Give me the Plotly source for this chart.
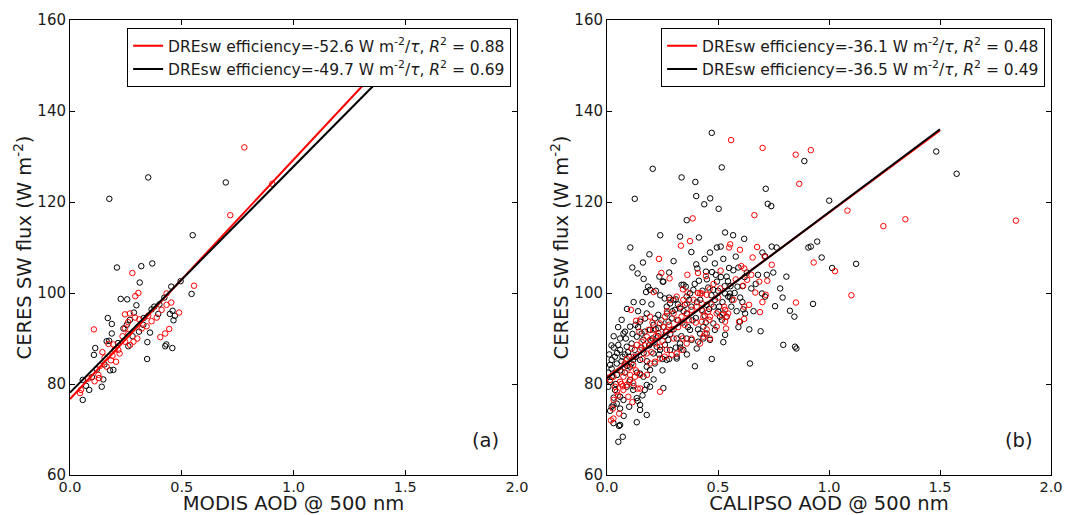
import plotly.graph_objects as go

# ---------------- Panel (a): MODIS ----------------
a_black_x = [0.350,0.176,0.697,0.549,0.210,0.319,0.368,0.312,0.227,0.256,0.297,0.544,0.495,0.453,0.422,0.377,0.459,0.447,0.469,0.463,0.431,0.426,0.458,0.346,0.345,0.358,0.169,0.187,0.187,0.164,0.175,0.113,0.107,0.142,0.149,0.057,0.086,0.057,0.239,0.254,0.268,0.286,0.309,0.328,0.365,0.395,0.261,0.194,0.179,0.154,0.072,0.098,0.120,0.215,0.280,0.330,0.400]
a_black_y = [125.4,120.7,124.3,112.7,105.6,105.9,106.5,102.3,98.7,98.6,97.3,99.8,102.6,101.4,99.0,97.0,96.1,95.4,95.0,94.0,88.7,88.3,87.9,89.2,85.5,91.3,94.5,93.2,91.1,89.4,89.5,87.9,86.4,79.4,81.0,80.9,78.7,76.5,92.2,93.0,94.1,95.7,91.5,93.0,96.4,95.4,88.3,83.1,83.0,84.3,79.6,81.5,83.2,89.0,90.5,94.5,97.5]
a_red_x = [0.780,0.717,0.905,0.279,0.306,0.292,0.555,0.432,0.453,0.432,0.488,0.444,0.426,0.404,0.107,0.145,0.127,0.110,0.049,0.082,0.172,0.194,0.216,0.206,0.183,0.164,0.190,0.222,0.246,0.269,0.284,0.301,0.321,0.343,0.365,0.388,0.410,0.246,0.268,0.291,0.246,0.261,0.135,0.155,0.200,0.235,0.260,0.310,0.350,0.045,0.130]
a_red_y = [132.0,117.1,124.0,104.4,100.0,99.3,101.6,99.9,97.9,97.4,95.7,92.1,91.1,90.3,92.0,87.0,82.0,80.6,78.7,81.2,88.8,88.7,87.5,84.9,85.2,83.8,86.2,86.7,89.3,88.6,89.3,90.0,92.2,92.7,93.8,94.6,96.3,95.3,95.5,94.6,92.2,91.0,84.0,85.8,87.6,90.5,93.6,94.2,95.0,78.0,81.3]

# ---------------- Panel (b): CALIPSO ----------------
b_black_x = [0.472,0.206,0.125,0.336,0.398,0.517,0.402,0.465,0.438,0.503,0.359,0.715,0.724,0.740,0.889,0.240,0.329,0.414,0.532,0.568,0.618,0.105,0.191,0.114,0.138,0.162,0.165,0.185,0.176,0.236,0.254,0.402,0.407,0.446,0.473,0.486,0.495,0.512,0.464,0.524,0.592,0.700,0.742,0.764,0.749,0.808,0.907,0.918,0.947,0.967,1.001,0.345,0.355,0.414,0.495,0.513,0.545,0.556,0.456,0.588,0.791,0.698,0.260,0.280,0.310,
             1.483,1.575,1.014,1.122,
             0.712,0.611,0.479,0.532,0.554,0.562,0.712,0.757,0.928,0.824,0.844,0.614,0.622,0.584,0.524,0.539,0.517,0.479,0.486,0.449,0.434,0.532,0.524,0.592,0.641,0.692,0.794,0.847,0.853,0.472,0.644,
             0.251,0.194,0.066,0.074,0.059,0.051,0.036,0.044,0.021,0.014,0.006,0.036,0.059,0.044,0.021,0.029,0.059,0.051,0.071,0.134,0.149,0.149,0.138,0.179,0.194,0.179,0.118,0.104,0.089,0.254,0.164,0.149,0.194,0.269,0.314,0.396,0.599,0.404,0.411,0.381,0.329,0.344,0.314,0.284,0.239,0.209,0.224,0.118,0.149,0.104,0.179,0.059,0.089,0.111,0.134,0.156,0.164,0.194,0.209,0.232,0.254,0.277,0.292,0.306,0.329,0.351,0.284,0.299,0.269,0.336,0.569,0.539,0.546,0.554,0.509,0.501,0.486,0.449,0.427,0.374,0.389,0.359,0.419,0.434,0.464,0.374,0.359,0.314,0.276,0.261,0.231,0.216,0.179,0.171,0.149,0.128,0.104,0.081,0.021,0.014,0.021,
             0.054,0.014,0.029,0.059,0.170,0.074,0.134,
             0.005,0.010,0.030,0.045,0.065,0.080,0.090,0.100,0.125,0.135,0.165,0.200,0.215,0.230,0.250,0.265,0.300,0.320,0.340,0.360,0.380,0.400,0.420,0.440,0.460,0.480,0.500,0.520,0.560,0.600,0.650,0.660,0.680,0.620,0.580,0.440,0.380,0.300,0.280,0.220,0.120,0.090,0.140,0.160,0.200,0.240,0.050,0.030,
             0.020,0.040,0.060,0.070,0.085,0.095,0.110,0.115,0.130,0.140,0.155,0.170,0.180,0.190,0.205,0.220,0.235,0.245,0.260,0.270,0.285,0.295,0.310,0.320,0.335,0.345,0.365,0.370,0.385,0.395,0.405,0.430,0.450,0.470,0.490,0.505,0.530,0.550,0.575,0.610,0.630,0.670,0.720,0.780,0.030,0.075,0.100,0.160,0.210,0.120,0.080,0.045,0.250,0.280,0.330,0.360,0.410,0.445]
b_black_y = [135.2,127.3,120.7,125.4,124.4,127.6,121.3,120.8,119.5,118.5,116.0,122.9,119.6,119.1,129.0,112.7,112.4,112.2,113.3,112.7,111.9,110.0,108.5,105.6,104.3,106.7,103.1,101.4,100.2,103.6,102.5,106.3,105.4,104.7,104.6,106.5,110.0,110.2,108.9,107.5,105.6,108.9,110.2,110.0,104.5,103.6,110.0,110.2,111.3,107.8,120.3,101.8,101.4,102.7,102.5,103.5,102.6,101.5,101.2,101.4,99.0,99.9,98.8,99.0,98.6,
             131.1,126.2,105.5,106.4,
             108.1,101.5,100.7,99.9,99.2,98.5,99.2,97.1,97.6,96.1,94.8,96.4,95.5,96.0,95.5,94.8,94.1,93.3,91.9,91.1,92.6,90.8,89.2,92.5,92.0,91.6,88.6,88.2,87.8,85.5,84.5,
             102.5,100.7,94.1,91.1,90.0,88.6,86.0,84.5,83.4,80.5,79.4,78.7,77.2,75.7,75.0,71.4,71.0,67.3,68.4,71.6,74.3,75.4,76.3,73.2,79.4,79.8,78.7,80.9,79.4,79.1,81.6,82.3,83.1,85.3,85.6,83.9,93.7,87.8,89.3,89.7,88.9,87.5,86.0,87.5,87.5,86.7,88.2,85.3,85.3,83.8,83.8,87.5,88.2,88.9,90.4,91.1,89.7,91.9,93.0,92.3,92.6,93.7,94.4,96.3,96.6,97.4,97.7,98.5,97.0,101.8,105.0,103.6,99.2,99.9,94.8,95.9,98.5,97.4,96.3,99.9,100.7,99.2,91.1,90.0,89.7,91.9,90.0,90.0,89.7,88.6,95.2,94.4,95.5,94.4,93.7,93.0,92.6,91.5,85.3,84.2,81.6,
             70.8,74.1,75.4,74.6,78.7,76.5,76.9,
             82.5,86.5,88.0,82.0,85.0,86.5,84.0,86.0,87.5,82.5,86.8,89.5,84.5,90.5,85.5,91.5,92.0,94.0,93.5,95.5,97.0,94.5,98.5,95.0,96.5,97.0,100.5,98.0,97.0,99.0,101.0,96.0,104.0,103.5,108.0,107.5,109.0,107.0,104.5,100.5,98.0,96.5,96.0,98.0,97.5,99.5,92.5,90.5,
             88.5,80.0,83.0,86.0,90.0,87.0,84.5,91.0,86.0,92.5,88.0,91.5,85.0,88.5,90.0,92.0,86.5,94.0,90.5,95.5,91.0,96.0,88.0,97.5,90.5,96.0,92.5,98.5,94.0,102.0,98.0,100.5,103.0,99.5,104.0,97.0,101.5,105.5,100.0,98.0,104.5,102.0,104.0,101.0,77.0,73.0,75.0,77.5,81.0,79.5,82.5,86.8,83.0,85.5,88.0,86.5,92.0,93.5]
b_red_x = [0.559,0.701,0.850,0.918,0.866,0.664,0.386,0.333,0.374,0.555,0.599,0.676,0.550,0.234,0.245,0.282,0.362,0.410,0.446,0.512,0.605,0.618,0.656,0.710,0.742,0.931,0.631,0.613,0.686,0.722,0.668,0.715,0.210,0.342,0.363,0.462,0.420,
           1.083,1.245,1.344,1.842,1.027,1.101,
           0.700,0.851,0.640,0.618,0.689,0.528,0.546,0.532,0.517,0.449,0.427,0.494,0.456,0.434,0.461,0.427,0.618,0.595,0.536,0.449,0.464,0.434,0.441,
           0.108,0.131,0.152,0.194,0.146,0.187,0.232,0.269,0.291,0.314,0.336,0.359,0.381,0.404,0.427,0.359,0.314,0.344,0.284,0.261,0.239,0.209,0.179,0.156,0.134,0.111,0.194,0.216,0.239,0.269,0.291,0.314,0.336,0.359,0.381,0.419,0.239,0.216,0.194,0.118,0.096,0.066,0.074,0.104,0.126,0.149,0.059,0.089,0.118,0.036,0.044,0.074,0.096,0.114,0.239,0.026,0.055,0.029,0.014,0.029,0.149,0.179,0.539,0.532,0.494,0.464,
           0.018,0.138,0.071,
           0.030,0.050,0.065,0.080,0.100,0.120,0.130,0.160,0.170,0.200,0.205,0.220,0.250,0.255,0.270,0.280,0.300,0.300,0.320,0.330,0.350,0.370,0.390,0.400,0.410,0.430,0.470,0.500,0.510,0.480,0.570,0.580,0.650,0.180,0.090,0.150,0.260,0.340]
b_red_y = [133.6,131.9,130.4,131.4,124.0,117.1,116.4,110.4,111.4,110.7,109.5,110.1,110.0,107.5,104.4,103.2,104.0,104.4,103.7,104.9,105.9,105.4,107.8,108.0,106.2,106.7,102.9,101.6,102.5,102.7,100.1,99.6,100.2,100.8,100.1,100.8,99.9,
           118.1,114.7,116.2,115.9,104.8,99.5,
           98.0,97.9,97.4,97.0,95.8,97.0,95.5,96.3,95.2,99.6,99.9,95.5,95.9,94.8,94.1,93.7,94.3,93.7,92.2,92.0,90.0,90.4,91.1,
           96.3,93.9,94.2,94.8,91.5,91.9,91.1,91.5,91.9,94.1,94.8,95.5,96.3,97.0,97.7,97.7,99.2,98.5,98.5,94.8,93.3,91.9,90.4,89.3,88.6,87.8,89.7,88.9,88.2,87.5,86.4,86.7,87.5,88.9,90.0,88.9,85.6,84.9,84.5,84.2,83.4,82.7,81.6,82.0,81.6,82.0,80.5,79.8,80.2,79.4,78.3,78.7,77.2,76.0,78.3,74.6,73.5,72.4,80.9,81.6,87.5,86.7,94.8,93.7,92.6,94.8,
           72.0,79.0,79.5,
           76.5,77.5,80.0,84.5,80.5,86.0,83.0,85.5,88.5,87.0,93.5,90.5,89.5,92.5,96.0,93.0,90.0,95.5,92.5,97.0,93.0,94.0,98.5,93.5,100.0,96.0,97.5,99.0,101.0,102.0,98.5,103.0,104.0,82.0,85.5,79.0,86.0,90.0]

# regression fits (slope per unit AOD, intercept)
fit_x = [0.0, 1.5]
a_red_fit = (52.6, 76.7)
a_black_fit = (49.7, 78.1)
b_red_fit = (36.1, 81.55)
b_black_fit = (36.5, 81.25)

legend_a = ["DREsw efficiency=-52.6 W m<sup>-2</sup>/<i>τ</i>, <i>R</i><sup>2</sup> = 0.88",
            "DREsw efficiency=-49.7 W m<sup>-2</sup>/<i>τ</i>, <i>R</i><sup>2</sup> = 0.69"]
legend_b = ["DREsw efficiency=-36.1 W m<sup>-2</sup>/<i>τ</i>, <i>R</i><sup>2</sup> = 0.48",
            "DREsw efficiency=-36.5 W m<sup>-2</sup>/<i>τ</i>, <i>R</i><sup>2</sup> = 0.49"]

x_titles = ["MODIS AOD @ 500 nm", "CALIPSO AOD @ 500 nm"]
y_title = "CERES SW flux (W m<sup>-2</sup>)"
panel_labels = ["(a)", "(b)"]
x_ticks = [0.0, 0.5, 1.0, 1.5, 2.0]
y_ticks = [60, 80, 100, 120, 140, 160]

RED = "#ff0000"
BLACK = "#000000"
TXT = "#1a1a1a"
FONT = "DejaVu Sans"

fig = go.Figure()

def add_panel(xa, ya, bx, by, rx, ry, rfit, kfit, labels, leg):
    fig.add_trace(go.Scatter(x=bx, y=by, mode="markers", xaxis=xa, yaxis=ya, showlegend=False,
                             marker=dict(symbol="circle-open", size=5.5, color=BLACK, line=dict(width=1, color=BLACK))))
    fig.add_trace(go.Scatter(x=rx, y=ry, mode="markers", xaxis=xa, yaxis=ya, showlegend=False,
                             marker=dict(symbol="circle-open", size=5.5, color=RED, line=dict(width=1, color=RED))))
    fig.add_trace(go.Scatter(x=fit_x, y=[rfit[1] + rfit[0] * v for v in fit_x], mode="lines",
                             xaxis=xa, yaxis=ya, name=labels[0], legend=leg, legendrank=1,
                             line=dict(color=RED, width=2)))
    fig.add_trace(go.Scatter(x=fit_x, y=[kfit[1] + kfit[0] * v for v in fit_x], mode="lines",
                             xaxis=xa, yaxis=ya, name=labels[1], legend=leg, legendrank=2,
                             line=dict(color=BLACK, width=2)))

add_panel("x", "y", a_black_x, a_black_y, a_red_x, a_red_y, a_red_fit, a_black_fit, legend_a, "legend")
add_panel("x2", "y2", b_black_x, b_black_y, b_red_x, b_red_y, b_red_fit, b_black_fit, legend_b, "legend2")

L, R, T, B = 70, 17, 20, 40
W, H = 1068, 515
pw = W - L - R
d1 = [0, (517 - L) / pw]
d2 = [(607 - L) / pw, 1]

axis_common = dict(showline=True, linecolor=BLACK, linewidth=1, mirror="ticks", ticks="inside",
                   ticklen=5, tickcolor=BLACK, showgrid=False, zeroline=False, automargin=False,
                   tickfont=dict(family=FONT, size=15, color=TXT))
xcommon = dict(axis_common, range=[0, 2], tickvals=x_ticks, ticktext=[f"{v:.1f}" for v in x_ticks],
               tickfont=dict(family=FONT, size=14.5, color=TXT), ticklabelstandoff=-1)
ycommon = dict(axis_common, range=[60, 160], tickvals=y_ticks)

legend_common = dict(bgcolor="white", bordercolor=BLACK, borderwidth=1,
                     font=dict(family=FONT, size=15.5, color=TXT),
                     xanchor="right", yanchor="top", tracegroupgap=0, itemwidth=30)

xt_font = dict(family=FONT, size=19.5, color=TXT)
fig.update_layout(
    width=W, height=H, margin=dict(l=L, r=R, t=T, b=B),
    paper_bgcolor="white", plot_bgcolor="white",
    font=dict(family=FONT, color=TXT),
    xaxis=dict(xcommon, domain=d1, anchor="y",
               title=dict(text=x_titles[0], font=xt_font, standoff=5)),
    yaxis=dict(ycommon, domain=[0, 1], anchor="x",
               title=dict(text=y_title, font=xt_font, standoff=0)),
    xaxis2=dict(xcommon, domain=d2, anchor="y2",
                title=dict(text=x_titles[1], font=xt_font, standoff=5)),
    yaxis2=dict(ycommon, domain=[0, 1], anchor="x2",
                title=dict(text=y_title, font=xt_font, standoff=0)),
    legend=dict(legend_common, x=d1[1] - 0.006, y=0.982),
    legend2=dict(legend_common, x=0.994, y=0.982),
)

for i, (xr, yr) in enumerate([("x domain", "y domain"), ("x2 domain", "y2 domain")]):
    fig.add_annotation(text=panel_labels[i], xref=xr, yref=yr, x=0.965, y=0.075,
                       xanchor="right", yanchor="middle", showarrow=False,
                       font=dict(family=FONT, size=19.5, color=TXT))

fig.write_html("out.html", config={"displayModeBar": False},
               post_script="document.body.style.margin='0px';document.body.style.overflow='hidden';")
